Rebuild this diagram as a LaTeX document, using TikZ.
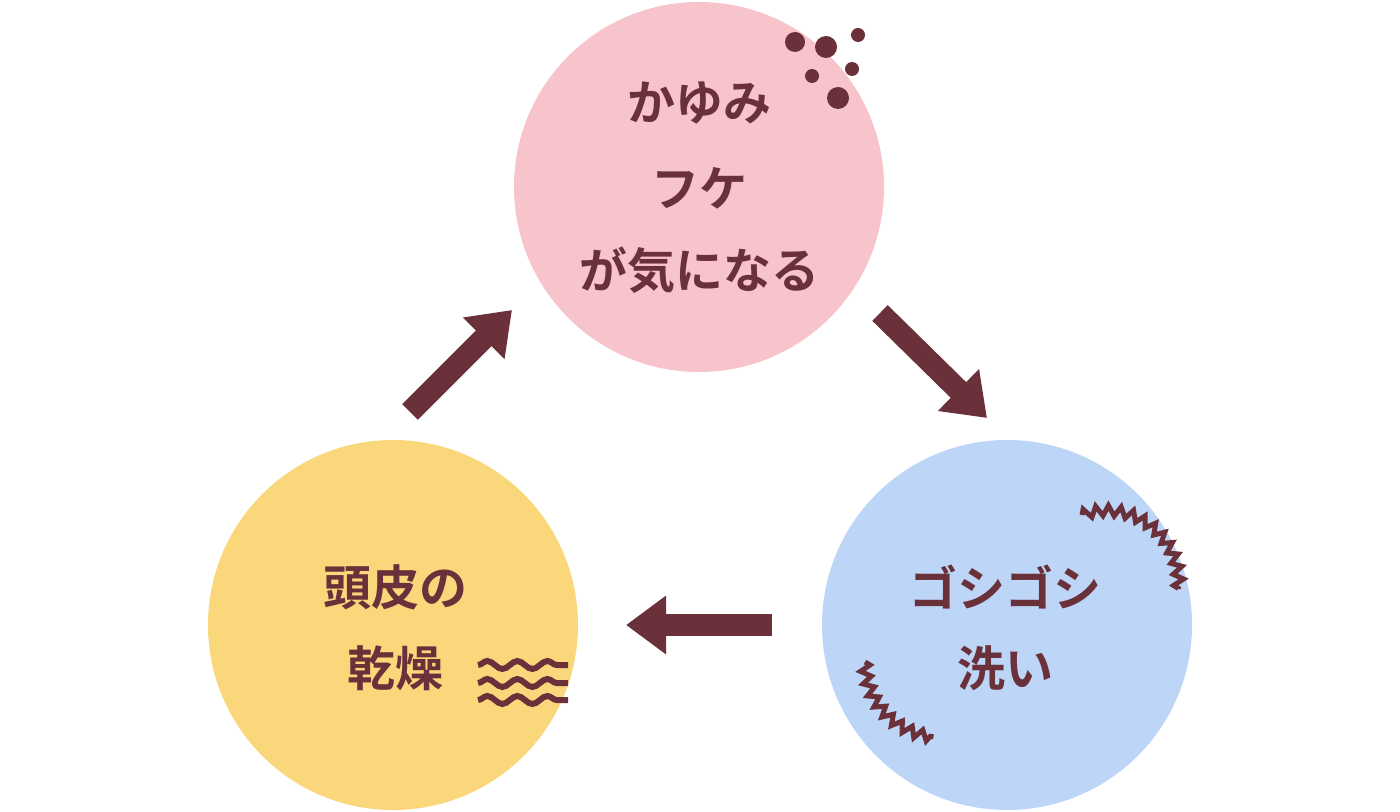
\documentclass[tikz,border=0pt]{standalone}
\usepackage{fontspec}
\newfontfamily\cjk[BoldFont={Noto Sans CJK JP Bold}]{Noto Sans CJK JP}
\usetikzlibrary{arrows.meta,decorations.pathmorphing}
\definecolor{dk}{HTML}{6A313A}
\definecolor{pk}{HTML}{F8C4CB}
\definecolor{yl}{HTML}{FBD77C}
\definecolor{bl}{HTML}{BDD5F6}
\tikzset{
 bub/.style={circle,minimum size=185pt,inner sep=0},
 lbl/.style={text=dk,font=\cjk\bfseries\fontsize{24}{28}\selectfont,align=center},
 arr/.style={draw=dk,line width=11pt,-{Triangle[length=20pt,width=28pt]}},
 dot/.style={fill=dk,draw=none},
 zz/.style={draw=dk,line width=2.5pt,decorate,decoration={zigzag,segment length=6pt,amplitude=2.5pt}},
 wv/.style={draw=dk,line width=3pt,decorate,decoration={snake,segment length=15pt,amplitude=2pt}}
}
\begin{document}
\begin{tikzpicture}[x=0.5pt,y=-0.5pt]
\useasboundingbox (0,0) rectangle (1400,812);
\node[bub,fill=pk] (p) at (699,187) {};
\node[bub,fill=yl] (y) at (393,625) {};
\node[bub,fill=bl] (b) at (1007,625) {};
\node[lbl] (p1) at (699,103) {かゆみ};
\node[lbl] (p2) at (699,188) {フケ};
\node[lbl] (p3) at (699,270) {が気になる};
\node[lbl] (b1) at (1005,587) {ゴシゴシ};
\node[lbl] (b2) at (1005,668) {洗い};
\node[lbl] (y1) at (395,587) {頭皮の};
\node[lbl] (y2) at (395,668) {乾燥};
\coordinate (a1s) at (410,412); \coordinate (a1e) at (512,310);
\coordinate (a2s) at (880,313); \coordinate (a2e) at (987,418);
\coordinate (a3s) at (772,625); \coordinate (a3e) at (626,625);
\draw[arr] (a1s) -- (a1e);
\draw[arr] (a2s) -- (a2e);
\draw[arr] (a3s) -- (a3e);
\foreach \x/\y/\r in {795/42/10,826/47/11,858/35/7,852/69/7,812/76/7,838/98/11}
  \fill[dot] (\x,\y) circle[radius=\r];
\foreach \y in {665,683,700}
  \draw[wv] (478,\y) -- (568,\y);
\draw[zz] (1082,515) arc[start angle=-110,end angle=5,radius=72];
\draw[zz] (865,662) arc[start angle=180,end angle=95,radius=75];
\end{tikzpicture}
\end{document}
